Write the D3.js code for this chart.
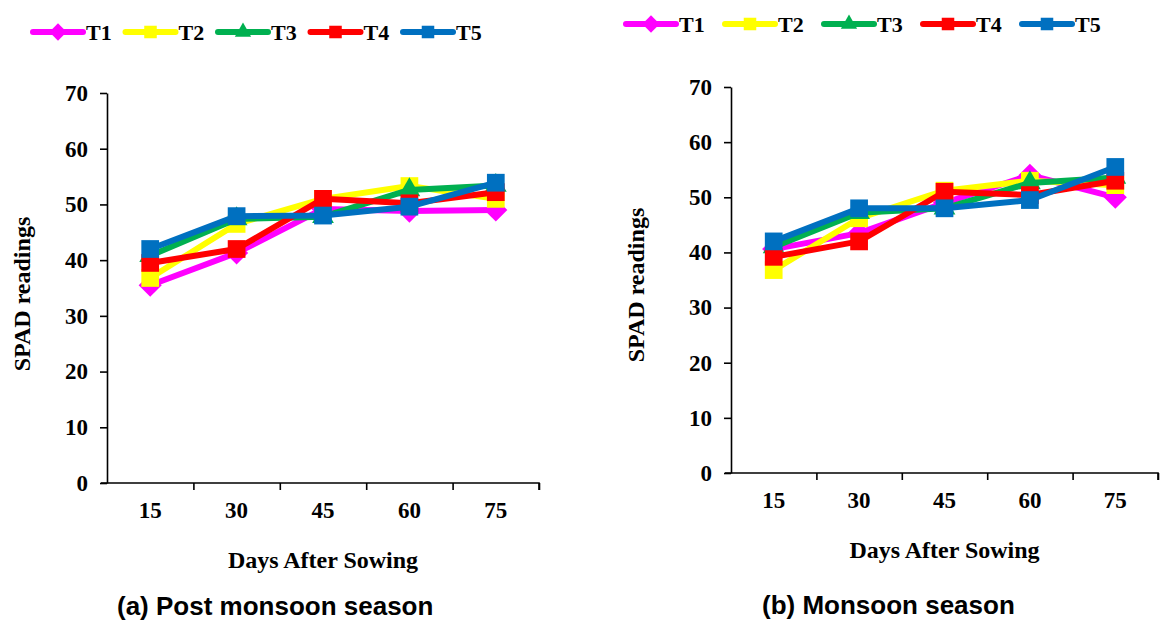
<!DOCTYPE html>
<html>
<head>
<meta charset="utf-8">
<script src="https://cdn.jsdelivr.net/npm/d3@7"></script>
<style>
  body { margin: 0; background: #fff; }
  text { font-family: "Liberation Serif", "Times New Roman", serif; font-weight: bold; }
  .cap { font-family: "Liberation Sans", Arial, sans-serif; }
</style>
</head>
<body>
<script>
// categories and series
var days = ["15", "30", "45", "60", "75"];
var treatments = ["T1", "T2", "T3", "T4", "T5"];
var colors = ["#ff00ff", "#ffff00", "#00b050", "#ff0000", "#0070c0"];
var shapes = ["diamond", "square", "triangle", "square", "square"];
var yTicks = [0, 10, 20, 30, 40, 50, 60, 70];

// (a) post monsoon
var postT1 = [35.5, 41.3, 49.2, 48.8, 49.0];
var postT2 = [36.8, 46.5, 51.0, 53.3, 51.0];
var postT3 = [40.8, 47.4, 47.8, 52.6, 53.4];
var postT4 = [39.5, 42.0, 51.0, 50.2, 52.2];
var postT5 = [42.0, 47.9, 48.0, 49.6, 53.9];

// (b) monsoon
var monT1 = [40.6, 43.5, 49.0, 54.0, 50.0];
var monT2 = [36.8, 46.2, 51.2, 53.0, 52.2];
var monT3 = [41.0, 47.2, 48.0, 52.6, 53.6];
var monT4 = [39.2, 42.0, 51.0, 50.4, 53.0];
var monT5 = [42.0, 48.0, 48.0, 49.5, 55.5];

var svg = d3.select("body").append("svg")
    .attr("width", 1160)
    .attr("height", 621);

function markerPath(shape, size) {
    var sym = shape == "diamond" ? d3.symbolDiamond2 :
              shape == "triangle" ? d3.symbolTriangle2 : d3.symbolSquare2;
    return d3.symbol().type(sym).size(size)();
}

function drawLegend(x0, y0, step) {
    var g = svg.append("g").attr("transform", "translate(" + x0 + "," + y0 + ")");
    treatments.forEach(function(t, i) {
        var item = g.append("g").attr("transform", "translate(" + i * step + ",0)");
        item.append("line")
            .attr("x1", 0).attr("x2", 50)
            .attr("stroke", colors[i])
            .attr("stroke-width", 6)
            .attr("stroke-linecap", "round");
        item.append("path")
            .attr("transform", "translate(25,0)")
            .attr("d", markerPath(shapes[i], shapes[i] == "square" ? 200 : 190))
            .attr("fill", colors[i]);
        item.append("text")
            .attr("x", 53).attr("y", 8)
            .style("font-size", "22px")
            .text(t);
    });
}

function drawPanel(cfg, series) {
    var g = svg.append("g");

    var y = d3.scaleLinear().domain([0, 70]).range([cfg.bottom, cfg.top]);
    var x = d3.scaleBand().domain(days).range([cfg.left, cfg.right]);
    var xEdge = d3.scaleLinear().domain([0, days.length]).range([cfg.left, cfg.right]);

    // y axis
    var yAxis = g.append("g")
        .attr("transform", "translate(" + cfg.left + ",0)")
        .call(d3.axisLeft(y).tickValues(yTicks).tickSize(7).tickPadding(12).tickSizeOuter(0));
    yAxis.selectAll("text").style("font-size", "23px").style("font-family", "Liberation Serif").style("font-weight", "bold");

    // x axis: tick marks at band edges
    var xAxis = g.append("g")
        .attr("transform", "translate(0," + cfg.bottom + ")")
        .call(d3.axisBottom(xEdge).tickValues(d3.range(1, days.length + 1)).tickFormat("").tickSize(7).tickSizeOuter(0));
    xAxis.select(".domain").attr("d", "M" + (cfg.left - 6) + ",0H" + cfg.right + "V7");

    // x labels at band centers
    var xLab = g.append("g")
        .attr("transform", "translate(0," + cfg.bottom + ")")
        .call(d3.axisBottom(x).tickSize(0).tickPadding(19));
    xLab.select(".domain").remove();
    xLab.selectAll("text").style("font-size", "23px").style("font-family", "Liberation Serif").style("font-weight", "bold");

    g.selectAll(".domain, .tick line").attr("stroke", "#000").attr("stroke-width", 1.6);

    // titles
    g.append("text")
        .attr("x", (cfg.left + cfg.right) / 2)
        .attr("y", cfg.bottom + 85)
        .attr("text-anchor", "middle")
        .style("font-size", "24px")
        .text("Days After Sowing");

    g.append("text")
        .attr("transform", "translate(" + cfg.ylabX + "," + ((cfg.top + cfg.bottom) / 2 + cfg.ylabShift) + ") rotate(-90)")
        .attr("text-anchor", "middle")
        .style("font-size", "24px")
        .text("SPAD readings");

    g.append("text")
        .attr("class", "cap")
        .attr("x", cfg.capX)
        .attr("y", cfg.capY)
        .style("font-size", "26px")
        .text(cfg.caption);

    var line = d3.line()
        .x(function(d, i) { return x(days[i]) + x.bandwidth() / 2; })
        .y(function(d) { return y(d); });

    series.forEach(function(vals, s) {
        g.append("path")
            .datum(vals)
            .attr("d", line)
            .attr("fill", "none")
            .attr("stroke", colors[s])
            .attr("stroke-width", 6)
            .attr("stroke-linejoin", "round");
        g.selectAll(".m" + s)
            .data(vals)
            .enter().append("path")
            .attr("class", "m" + s)
            .attr("transform", function(d, i) {
                return "translate(" + (x(days[i]) + x.bandwidth() / 2) + "," + y(d) + ")";
            })
            .attr("d", markerPath(shapes[s], shapes[s] == "square" ? 400 : 340))
            .attr("fill", colors[s]);
    });
}

drawLegend(33, 32, 92.5);
drawLegend(626, 24, 99);

drawPanel({ left: 107, right: 539, top: 93, bottom: 483, ylabX: 30, ylabShift: 6,
            capX: 117, capY: 615, caption: "(a) Post monsoon season" },
          [postT1, postT2, postT3, postT4, postT5]);

drawPanel({ left: 731, right: 1158, top: 87, bottom: 473, ylabX: 644, ylabShift: 5,
            capX: 762, capY: 614, caption: "(b) Monsoon season" },
          [monT1, monT2, monT3, monT4, monT5]);
</script>
</body>
</html>
